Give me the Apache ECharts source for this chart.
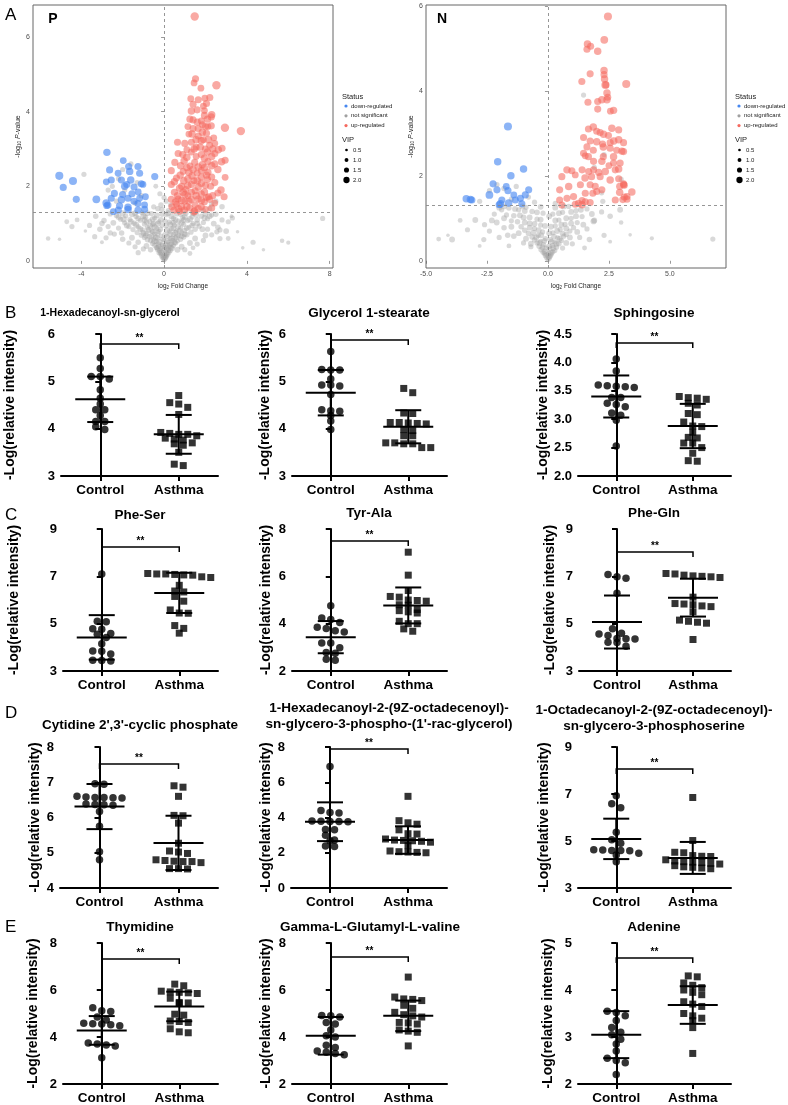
<!DOCTYPE html>
<html><head><meta charset="utf-8">
<script src="https://cdn.jsdelivr.net/npm/echarts@6/dist/echarts.min.js"></script>
<style>html,body{margin:0;padding:0;background:#fff}#c{width:788px;height:1105px}</style>
</head><body><div id="c"></div>
<script>
// ---------------- Volcano data: [log2 fold change, -log10 P, VIP] ----------------
const P_CUTOFF = 1.3;
const pUp = [[1.48,6.55,2.0],[1.52,4.88,1.6],[1.45,4.77,1.5],[2.53,4.71,2.0],[1.78,4.63,1.5],
[1.29,4.35,1.5],[1.65,4.32,1.6],[1.97,4.36,1.5],[2.21,4.38,1.6],[1.40,4.20,1.6],[1.90,4.15,1.5],[2.05,4.22,1.6],
[1.32,4.02,1.7],[1.60,4.05,1.6],[1.95,4.03,1.5],[2.30,3.92,1.7],[2.28,3.86,1.6],
[1.40,3.78,1.6],[1.80,3.75,1.5],[2.10,3.80,1.7],[1.60,3.72,1.6],
[1.15,3.60,1.5],[1.40,3.55,1.6],[2.12,3.60,1.5],[2.28,3.62,1.6],[1.85,3.65,1.5],
[2.94,3.57,2.0],[3.71,3.48,2.0],
[1.20,3.40,1.5],[1.65,3.35,1.6],[2.05,3.42,1.6],[2.40,3.30,1.5],[1.90,3.25,1.5],
[0.65,3.18,1.6],[1.32,3.18,1.6],[1.80,3.22,1.7],[2.45,3.15,1.5],[2.20,3.10,1.6],[1.55,3.05,1.5],
[2.00,3.00,1.6],[2.62,2.98,1.7],[2.80,3.02,1.6],[1.10,2.98,1.5],
[0.68,2.88,1.6],[1.32,2.92,1.5],[1.80,2.85,1.6],[2.10,2.92,1.7],[2.45,2.88,1.6],[1.55,2.80,1.5],
[0.52,2.64,1.6],[0.97,2.68,1.7],[1.48,2.64,1.6],[2.12,2.66,1.6],[2.45,2.60,1.6],[2.78,2.66,1.7],[1.25,2.55,1.5],[1.85,2.58,1.6],[2.95,2.70,1.6],
[0.35,2.42,1.6],[0.92,2.40,1.5],[1.40,2.45,1.7],[1.80,2.42,1.6],[2.12,2.38,1.6],[2.60,2.45,1.7],[1.10,2.50,1.6],[1.60,2.35,1.5],
[0.60,2.22,1.6],[1.15,2.20,1.7],[1.80,2.25,1.6],[2.45,2.10,1.6],[2.95,2.24,1.5],[1.45,2.15,1.5],[2.10,2.18,1.6],
[0.35,2.05,1.6],[0.85,2.00,1.6],[1.32,2.05,1.6],[1.65,1.98,1.7],[2.00,2.02,1.6],[1.05,1.92,1.5],[1.50,1.88,1.6],
[0.50,1.84,1.6],[0.92,1.84,1.7],[1.32,1.84,1.6],[1.80,1.80,1.6],[2.60,1.82,1.6],[2.75,1.90,1.7],[2.90,1.72,1.6],[1.15,1.75,1.5],[2.15,1.72,1.6],
[0.35,1.65,1.6],[0.68,1.66,1.6],[1.32,1.65,1.7],[1.65,1.66,1.6],[2.20,1.65,1.6],[2.45,1.55,1.5],[1.00,1.60,1.5],[1.95,1.58,1.5],[2.05,1.70,1.6],
[0.38,1.45,1.6],[0.84,1.45,1.7],[1.24,1.42,1.6],[1.80,1.45,1.6],[0.60,1.52,1.5],[1.50,1.50,1.5],
[0.48,1.36,1.6],[0.98,1.36,1.6],[1.48,1.34,1.6],[2.00,1.38,1.5],[1.45,1.32,1.7],[0.75,1.33,1.5],
[0.70,1.40,1.7],[1.10,1.45,1.7],[1.65,1.40,1.7],[2.30,1.42,1.6],[0.55,1.58,1.7],[0.85,1.62,1.7],[1.20,1.60,1.7],[1.80,1.62,1.7],[2.35,1.75,1.6],[0.65,1.75,1.7],[1.00,1.78,1.7],[1.55,1.75,1.7],[1.95,1.85,1.7],[0.75,1.95,1.7],[1.15,2.02,1.7],[1.80,2.08,1.7],[2.25,2.00,1.6],[0.50,2.12,1.7],[0.95,2.15,1.7],[1.35,2.28,1.7],[1.60,2.15,1.7],[2.05,2.30,1.7],[2.30,2.25,1.6],[0.78,2.30,1.7],[1.20,2.38,1.7],[1.95,2.50,1.7],[2.30,2.55,1.7],[0.80,2.55,1.7],[1.65,2.52,1.7],[1.10,2.78,1.7],[1.95,2.75,1.7],[2.30,2.80,1.7],[0.90,2.85,1.6],[1.45,3.00,1.7],[1.75,3.05,1.7],[2.35,3.00,1.7],[1.00,3.15,1.6],[1.55,3.25,1.7],[2.15,3.25,1.7],[1.35,3.40,1.7],[1.85,3.45,1.7],[1.65,3.55,1.6],[2.00,3.60,1.6],[1.25,3.80,1.6],[1.95,3.90,1.6]];
const pDown = [[-2.76,2.91,1.7],[-5.06,2.28,1.9],[-4.40,2.14,1.9],[-4.87,1.97,1.6],[-4.24,1.65,1.6],[-3.27,1.65,1.8],[-2.79,1.55,1.8],[-2.77,1.48,1.5],
[-1.97,2.69,1.5],[-1.71,2.53,1.6],[-1.26,2.53,1.6],[-2.63,2.44,1.6],[-2.22,2.35,1.5],[-1.66,2.40,1.7],[-1.18,2.35,1.6],[-0.45,2.26,1.6],
[-2.55,2.17,1.6],[-2.06,2.17,1.6],[-1.61,2.17,1.7],[-1.10,2.07,1.6],[-2.79,2.12,1.5],[-1.90,2.00,1.7],[-1.45,1.98,1.6],[-1.02,2.05,1.5],[-1.80,2.05,1.6],
[-2.40,1.81,1.6],[-2.00,1.78,1.6],[-1.55,1.80,1.6],[-1.25,1.85,1.5],
[-2.55,1.68,1.6],[-2.06,1.64,1.7],[-1.74,1.68,1.6],[-1.18,1.68,1.5],[-0.90,1.72,1.5],[-1.45,1.60,1.6],
[-2.71,1.50,1.6],[-2.15,1.48,1.6],[-1.74,1.44,1.7],[-1.26,1.54,1.6],[-0.94,1.50,1.5],
[-2.21,1.36,1.6],[-1.74,1.38,1.7],[-1.26,1.36,1.6],[-0.94,1.38,1.6],[-2.45,1.32,1.5]];
const pNs = [[0.00,0.02,0.8],[0.04,0.05,1.0],[-0.04,0.06,0.9],[0.09,0.09,1.0],[-0.08,0.10,1.1],[0.13,0.13,0.9],[-0.12,0.15,1.0],[0.02,0.16,1.2],[0.18,0.18,1.0],[-0.18,0.19,0.9],
[-0.24,0.22,1.0],[0.23,0.23,1.1],[0.06,0.25,0.9],[-0.06,0.27,1.0],[0.30,0.28,1.0],[-0.30,0.30,1.1],[0.15,0.31,0.9],[-0.16,0.33,1.0],[0.38,0.34,1.2],[-0.37,0.36,1.0],[0.03,0.37,1.0],[0.25,0.38,0.9],[-0.25,0.39,1.1],
[0.45,0.41,1.0],[-0.45,0.42,1.0],[0.10,0.43,1.1],[-0.10,0.44,0.9],[0.35,0.46,1.0],[-0.55,0.47,1.0],[0.55,0.48,1.1],[0.20,0.50,1.0],[-0.22,0.51,1.2],[-0.38,0.52,1.0],[0.65,0.53,0.9],[-0.65,0.54,1.0],[0.42,0.55,1.0],[0.00,0.56,0.9],[-0.80,0.57,1.1],[0.80,0.58,1.0],[-0.50,0.59,0.9],
[0.30,0.60,1.0],[-0.30,0.61,1.0],[0.55,0.62,1.1],[-0.95,0.63,1.0],[0.95,0.64,1.0],[-0.70,0.65,1.1],[0.15,0.66,1.0],[-0.15,0.67,0.9],[0.70,0.68,1.0],[-1.10,0.69,1.0],[1.10,0.70,1.1],[0.45,0.71,1.0],[-0.45,0.72,1.0],[-0.85,0.74,1.2],[0.85,0.75,1.0],[-1.30,0.76,1.0],[1.30,0.77,1.0],[0.25,0.78,0.9],[-0.25,0.79,1.0],
[0.60,0.80,1.0],[-0.60,0.81,1.1],[1.00,0.82,1.0],[-1.05,0.83,1.0],[-1.50,0.84,1.0],[1.50,0.85,1.1],[0.35,0.86,1.0],[-0.35,0.87,1.0],[0.80,0.88,1.0],[-0.80,0.89,1.1],[1.20,0.90,1.0],[-1.25,0.91,1.0],[-1.70,0.92,1.0],[1.70,0.93,1.0],[0.10,0.94,1.0],[-0.10,0.95,0.9],[0.50,0.96,1.0],[-0.55,0.97,1.1],[0.95,0.98,1.0],[-0.95,0.99,1.0],
[1.40,1.00,1.0],[-1.45,1.01,1.1],[-1.90,1.02,1.0],[1.90,1.03,1.0],[0.25,1.04,1.0],[-0.25,1.05,1.0],[0.70,1.06,1.1],[-0.70,1.07,1.0],[1.15,1.08,1.0],[-1.15,1.09,1.0],[1.60,1.10,1.1],[-1.65,1.11,1.0],[-2.10,1.12,1.0],[2.10,1.13,1.0],[0.45,1.14,1.0],[-0.45,1.15,1.0],[0.90,1.16,1.0],[-0.90,1.17,1.1],[1.35,1.18,1.0],[-1.35,1.19,1.0],[1.80,1.20,1.0],[-1.85,1.21,1.0],[-2.30,1.22,1.1],[2.30,1.23,1.0],[0.10,1.24,1.0],[-0.10,1.25,1.0],[0.60,1.26,1.0],[-0.60,1.27,1.0],[1.05,1.28,1.1],[-1.05,1.29,1.0],
[1.40,0.35,0.9],[-1.40,0.38,1.0],[1.90,0.55,1.0],[-2.00,0.58,1.1],[2.30,0.70,1.0],[-2.40,0.72,1.0],[2.60,0.90,1.1],[-2.70,0.92,1.0],[2.80,1.10,1.0],[-2.90,1.08,1.1],[1.00,0.30,1.0],[-1.00,0.32,1.0],[1.60,0.45,1.0],[-1.70,0.48,1.0],[2.10,0.85,1.0],[-2.20,0.88,1.0],[2.50,1.25,1.1],[-2.60,1.26,1.0],[3.00,0.80,1.2],[-3.10,0.85,1.1],[2.70,0.60,1.0],[-2.80,0.62,1.0],[1.25,0.20,0.9],[-1.25,0.22,1.0],[3.30,1.15,1.0],[-3.30,1.20,1.1],
[-0.30,1.40,1.0],[0.20,1.35,1.0],[-0.15,1.50,1.1],[0.10,1.60,1.0],[-0.50,1.45,1.0],[0.30,1.50,0.9],[-0.20,1.80,1.0],[0.00,1.70,1.0],[-0.40,2.00,0.9],[-0.10,1.38,1.0],[2.30,1.52,1.0],[2.50,1.60,1.0],[2.80,1.45,1.1],[1.90,1.35,1.0],[2.20,1.40,1.0],[-2.50,2.00,1.0],[-2.20,2.20,1.0],[-1.60,2.60,1.0],[-2.00,2.45,1.0],[-3.87,2.32,1.0],[-1.30,2.10,1.0],[-1.90,1.90,1.0],[-2.30,1.60,1.0],[-1.40,1.55,1.0],[-1.10,1.75,1.0],[-2.70,1.90,1.0],
[7.66,1.14,1.0],[4.30,0.50,1.0],[5.70,0.54,0.8],[6.00,0.49,0.7],[-5.60,0.60,0.8],[-5.05,0.58,0.5],[-4.45,0.92,1.0],[-3.35,0.65,1.0],[3.26,1.20,0.6],[3.55,0.78,0.5],[3.10,0.60,0.9],[2.70,0.83,1.0],[-4.20,1.10,0.9],[-3.80,0.80,0.5],[-3.00,0.50,0.6],[4.80,0.30,0.5],[3.80,0.35,0.5],[-4.70,1.05,0.9],[-3.60,0.95,1.0],
[0.07,0.12,1.2],[-0.02,0.11,1.1],[0.12,0.20,1.1],[-0.13,0.23,1.2],[0.20,0.29,1.2],[-0.20,0.28,1.1],[0.33,0.36,1.1],[-0.32,0.35,1.2],[0.10,0.36,1.3],[-0.05,0.40,1.2],[0.28,0.43,1.2],[-0.28,0.45,1.1],[0.50,0.50,1.2],[-0.48,0.53,1.3],[0.15,0.53,1.2],[-0.05,0.58,1.1],[0.38,0.60,1.3],[-0.40,0.63,1.2],[0.62,0.65,1.2],[-0.60,0.67,1.2],[0.85,0.66,1.1],[-0.88,0.68,1.2],[0.05,0.70,1.2],[0.30,0.72,1.2],[-0.32,0.74,1.3],[0.55,0.76,1.2],[-0.55,0.78,1.1],[1.00,0.72,1.2],[-1.00,0.75,1.2],[0.75,0.80,1.3],[-0.75,0.83,1.2],[0.15,0.83,1.2],[-0.18,0.85,1.1],[0.45,0.87,1.2],[-0.45,0.90,1.3],[1.10,0.88,1.2],[-1.15,0.86,1.2],[0.68,0.92,1.2],[-0.68,0.94,1.2],[1.35,0.95,1.1],[-1.35,0.97,1.3],[0.30,0.98,1.2],[-0.30,1.00,1.2],[0.85,1.02,1.3],[-0.85,1.04,1.2],[1.60,1.00,1.2],[-1.60,1.05,1.2],[0.05,1.06,1.1],[0.55,1.10,1.2],[-0.55,1.12,1.2],[1.25,1.12,1.3],[-1.25,1.14,1.2],[1.00,1.18,1.2],[-1.00,1.20,1.3],[0.35,1.20,1.2],[-0.35,1.22,1.2],[1.55,1.24,1.2],[-1.55,1.25,1.2],[0.80,1.26,1.2],[-0.80,1.28,1.2],[2.00,1.26,1.2],[-2.00,1.28,1.2],[0.20,1.28,1.2],[-1.80,0.95,1.2],[1.85,0.85,1.2],[-2.05,0.75,1.1],[2.00,0.68,1.2],[-1.55,0.62,1.2],[1.50,0.60,1.2],[-1.25,0.50,1.1],[1.25,0.48,1.2],[-0.85,0.40,1.2],[0.85,0.38,1.2],[-0.65,0.30,1.1],[0.65,0.30,1.2],[-2.45,1.02,1.2],[2.40,1.00,1.2],[-2.20,1.18,1.2],[2.20,1.20,1.2],[-1.40,1.28,1.2],[1.40,1.28,1.2],[-1.95,1.12,1.3],[1.95,1.15,1.2],[-0.95,1.10,1.2],[0.95,1.10,1.2],[-0.15,1.10,1.2],[0.45,1.02,1.2],[-0.50,1.00,1.1],[-2.60,0.75,1.0],[2.55,0.78,1.0],[-3.00,1.00,1.1],[3.10,1.05,1.0]];

const nUp = [[2.46,5.75,1.9],[1.62,5.10,1.7],[1.75,5.05,1.6],[1.60,4.98,1.6],[2.04,4.93,1.7],[2.31,5.20,1.8],
[1.39,4.22,1.6],[1.73,4.40,1.6],[2.30,4.48,1.7],[2.30,4.38,1.6],[2.32,4.28,1.7],[2.35,4.14,1.8],[2.38,4.14,1.6],
[2.42,3.95,1.7],[2.45,3.85,1.6],[2.42,3.79,1.7],[3.21,4.16,1.9],[1.64,3.73,1.6],[2.04,3.75,1.6],[2.21,3.79,1.7],[2.04,3.57,1.6],[2.69,3.54,1.7],[2.56,3.52,1.5],
[1.66,3.10,1.6],[1.86,3.15,1.7],[2.00,3.05,1.6],[2.14,3.02,1.6],[2.28,2.98,1.7],[2.48,2.95,1.6],[2.62,3.12,1.7],[2.90,3.08,1.6],
[1.46,2.90,1.6],[1.73,2.82,1.6],[2.00,2.80,1.7],[2.24,2.75,1.6],[2.55,2.78,1.6],[2.90,2.85,1.7],[3.10,2.78,1.6],[2.70,2.82,1.7],
[1.60,2.68,1.6],[1.86,2.60,1.6],[2.27,2.68,1.7],[2.55,2.65,1.6],[2.82,2.60,1.6],[3.03,2.58,1.6],
[1.46,2.53,1.6],[1.66,2.45,1.6],[2.27,2.45,1.6],[2.69,2.45,1.7],[3.10,2.57,1.6],[1.53,2.47,1.5],
[1.87,2.34,1.6],[2.21,2.34,1.7],[2.69,2.30,1.6],[2.96,2.30,1.6],[2.50,2.24,1.5],
[0.78,2.14,1.7],[0.98,2.12,1.6],[1.40,2.14,1.6],[1.67,2.10,1.6],[1.87,2.14,1.6],[2.08,2.08,1.6],[2.35,2.10,1.7],[2.76,2.14,1.6],[2.90,2.16,1.7],
[0.57,1.98,1.6],[1.12,2.02,1.5],[1.52,1.95,1.7],[1.79,1.98,1.6],[2.14,1.98,1.6],[2.55,1.90,1.7],[2.90,1.93,1.6],[3.10,1.81,1.6],[3.13,1.78,1.6],
[0.48,1.67,1.6],[0.85,1.75,1.7],[1.33,1.79,1.6],[1.73,1.79,1.6],[1.94,1.75,1.6],[2.21,1.67,1.6],[2.94,1.75,1.6],[3.10,1.79,1.6],
[0.48,1.43,1.6],[1.05,1.51,1.6],[1.53,1.59,1.6],[1.84,1.59,1.6],[2.00,1.63,1.6],[2.94,1.61,1.7],[3.24,1.51,1.6],[3.44,1.62,1.7],[3.13,1.50,1.6],
[0.57,1.31,1.6],[0.78,1.47,1.6],[1.40,1.42,1.6],[1.53,1.39,1.6],[1.73,1.37,1.6],[2.76,1.43,1.6],[3.07,1.44,1.6],[3.24,1.45,1.6],
[1.12,1.33,1.6],[1.25,1.35,1.6],[1.40,1.32,1.7]];
const nDown = [[-1.64,3.16,1.9],[-2.06,2.33,1.7],[-1.00,2.16,1.7],[-1.52,2.00,1.7],[-2.25,1.81,1.6],[-2.09,1.67,1.6],[-1.71,1.75,1.5],[-2.40,1.55,1.8],[-1.64,1.65,1.6],[-0.79,1.67,1.6],[-0.93,1.55,1.6],[-1.13,1.47,1.6],[-3.35,1.46,1.7],[-3.18,1.44,1.7],[-3.12,1.43,1.6],[-1.95,1.34,1.8],[-1.61,1.36,1.7],[-1.34,1.43,1.6],[-1.07,1.34,1.6],[-1.89,1.43,1.6],[-2.00,1.32,1.6],[-1.40,1.55,1.5]];
const nNs = [[0.00,0.02,0.9],[0.05,0.06,1.0],[-0.05,0.07,1.0],[0.10,0.11,1.0],[-0.10,0.12,1.1],[0.15,0.15,0.9],[-0.14,0.17,1.0],[0.03,0.18,1.0],[-0.20,0.20,1.0],[0.20,0.21,1.0],
[0.28,0.24,1.0],[-0.28,0.26,1.1],[0.08,0.28,1.0],[-0.08,0.30,1.0],[0.35,0.32,1.0],[-0.36,0.34,1.1],[0.18,0.36,1.0],[-0.18,0.38,1.0],[0.45,0.40,1.1],[-0.45,0.42,1.0],[0.28,0.44,1.0],[-0.30,0.46,1.0],[0.55,0.48,1.0],[-0.55,0.49,1.1],
[0.10,0.50,1.0],[-0.10,0.52,1.0],[0.40,0.54,1.0],[-0.65,0.56,1.1],[0.65,0.58,1.0],[-0.40,0.60,1.0],[0.75,0.62,1.0],[-0.80,0.64,1.1],[0.20,0.66,1.0],[-0.22,0.68,1.0],[0.90,0.70,1.0],[-0.95,0.72,1.1],[0.50,0.74,1.0],[-0.55,0.76,1.0],[1.05,0.78,1.0],
[-1.10,0.80,1.1],[0.30,0.82,1.0],[-0.30,0.84,1.0],[0.70,0.86,1.0],[-0.75,0.88,1.2],[1.20,0.90,1.0],[-1.25,0.92,1.1],[-1.50,0.94,1.0],[0.45,0.96,1.0],[-0.45,0.98,1.0],[0.95,1.00,1.0],[-1.00,1.02,1.2],[1.40,1.04,1.0],[-1.40,1.06,1.1],[-1.70,1.08,1.0],[0.20,1.10,1.0],[-0.20,1.12,1.0],[0.60,1.14,1.0],[-0.65,1.16,1.1],[1.15,1.18,1.0],[-1.20,1.20,1.0],[1.60,1.22,1.0],[-1.60,1.24,1.1],[-0.90,1.26,1.0],[0.85,1.28,1.0],
[1.00,0.40,1.0],[-1.00,0.42,1.0],[1.30,0.55,1.0],[-1.40,0.58,1.1],[1.60,0.75,1.0],[-1.80,0.78,1.1],[-2.10,0.90,1.2],[1.90,0.95,1.2],[-2.40,0.70,1.0],[-2.60,0.85,1.0],[-2.20,1.10,1.0],[2.20,1.15,1.0],[-1.90,1.20,1.0],[1.50,0.30,0.9],[-1.60,0.35,0.9],[-2.00,0.55,1.0],[0.60,0.30,1.0],[-0.70,0.33,1.0],[2.30,0.60,1.0],
[1.46,3.90,1.0],[2.20,1.60,1.0],[2.25,1.40,1.0],[3.00,1.92,1.0],[-2.09,1.79,1.0],[-1.80,1.70,1.1],[-1.30,1.75,1.0],[-2.40,1.65,1.0],[-1.50,1.45,1.0],[-0.55,1.38,1.0],[0.30,1.35,1.0],[1.90,2.20,1.0],[2.30,2.50,1.0],[-0.80,1.50,1.0],[-2.80,1.40,1.0],
[-4.48,0.51,0.9],[-3.93,0.50,1.2],[-2.98,0.96,1.2],[-3.30,0.73,1.0],[-2.63,0.50,1.0],[1.87,0.93,1.3],[2.55,1.05,1.1],[2.96,1.20,1.2],[3.37,0.61,0.5],[4.26,0.53,0.7],[6.76,0.51,1.0],[2.55,0.45,0.6],[-3.60,0.95,0.9],[-4.10,0.60,0.5],[-2.80,0.35,0.6],[3.00,0.90,0.8],
[0.04,0.10,1.2],[-0.03,0.14,1.2],[0.12,0.19,1.2],[-0.12,0.22,1.2],[0.22,0.30,1.2],[-0.22,0.32,1.2],[0.04,0.34,1.2],[0.35,0.40,1.2],[-0.35,0.42,1.2],[0.15,0.45,1.2],[-0.15,0.47,1.2],[0.48,0.52,1.2],[-0.48,0.55,1.2],[0.25,0.57,1.2],[-0.28,0.60,1.2],[0.60,0.64,1.2],[-0.60,0.66,1.2],[0.05,0.65,1.2],[0.38,0.70,1.2],[-0.38,0.72,1.2],[0.75,0.76,1.2],[-0.75,0.78,1.2],[0.12,0.80,1.2],[-0.12,0.82,1.2],[0.55,0.85,1.2],[-0.55,0.87,1.2],[0.95,0.88,1.2],[-0.95,0.90,1.2],[0.30,0.95,1.2],[-0.30,0.97,1.2],[0.75,1.00,1.2],[-0.75,1.02,1.2],[1.15,1.05,1.2],[-1.15,1.07,1.2],[0.05,1.05,1.2],[0.45,1.12,1.2],[-0.45,1.14,1.2],[0.95,1.15,1.2],[-0.95,1.17,1.2],[1.35,1.20,1.2],[-1.35,1.22,1.2],[0.30,1.25,1.2],[-0.30,1.27,1.2],[0.65,1.28,1.2],[-1.05,1.28,1.2],[-1.80,1.00,1.2],[-1.50,0.80,1.2],[1.45,0.85,1.2],[-1.20,0.65,1.2],[1.20,0.68,1.2],[-0.90,0.52,1.2],[0.90,0.55,1.2],[-2.00,1.25,1.2],[1.80,1.10,1.2],[-2.30,0.95,1.2],[-1.65,0.60,1.1],[1.70,0.50,1.1],[-0.70,0.40,1.2],[0.75,0.42,1.2],[-1.80,1.28,1.2]];

const statusNames = ['down-regulated', 'not significant', 'up-regulated'];
const vipLegend = [0.5, 1.0, 1.5, 2.0];
const pXTicks = [-4, 0, 4, 8], pYTicks = [0, 2, 4, 6];
const nXTicks = [-5, -2.5, 0, 2.5, 5], nYTicks = [0, 2, 4, 6];

// ---------------- Dot plot data ----------------
const groups = ['Control', 'Asthma'];
const b1Control = [5.50,5.27,5.10,5.10,5.05,4.82,4.64,4.52,4.40,4.40,4.28,4.15,4.15,4.04,3.98];
const b1Asthma = [4.70,4.55,4.52,4.45,4.30,3.92,3.90,3.88,3.88,3.85,3.80,3.78,3.76,3.70,3.68,3.65,3.50,3.25,3.22];
const b2Control = [5.63,5.25,5.24,5.24,5.05,4.92,4.92,4.90,4.72,4.40,4.38,4.37,4.28,4.16,3.98];
const b2Asthma = [4.85,4.76,4.33,4.32,4.13,4.13,4.12,4.11,4.10,3.98,3.96,3.85,3.85,3.70,3.70,3.68,3.68,3.60,3.60];
const b3Control = [4.06,3.85,3.60,3.59,3.58,3.57,3.56,3.38,3.38,3.28,3.26,3.22,3.11,3.07,2.98,2.53];
const b3Asthma = [3.40,3.38,3.37,3.35,3.28,3.25,3.10,3.08,2.95,2.88,2.87,2.77,2.68,2.67,2.58,2.58,2.50,2.40,2.27,2.26];
const c1Control = [7.10,5.10,5.08,4.78,4.76,4.58,4.55,4.42,4.15,3.85,3.83,3.72,3.45,3.44,3.42];
const c1Asthma = [7.12,7.10,7.10,7.08,7.06,7.05,6.98,6.95,6.62,6.38,6.34,6.15,5.95,5.58,5.45,5.44,4.92,4.80,4.60];
const c2Control = [4.76,4.24,4.18,4.05,3.85,3.80,3.70,3.65,3.18,3.18,2.98,2.78,2.75,2.50,2.45];
const c2Asthma = [7.02,6.05,5.40,5.15,5.12,5.00,4.98,4.95,4.80,4.78,4.60,4.55,4.50,4.45,4.10,4.00,4.00,3.78,3.68];
const c3Control = [7.08,6.98,6.92,6.28,4.78,4.60,4.56,4.50,4.37,4.36,4.35,4.22,4.20,4.05];
const c3Asthma = [7.12,7.10,7.05,7.02,7.00,6.98,6.95,6.12,5.85,5.83,5.80,5.75,5.72,5.50,5.15,5.10,5.06,5.02,4.33];
const d1Control = [6.96,6.94,6.60,6.58,6.57,6.57,6.56,6.55,6.38,6.37,6.36,6.35,6.17,5.75,5.03,4.80];
const d1Asthma = [6.90,6.86,6.60,6.06,6.05,5.84,5.27,5.05,5.02,4.98,4.80,4.78,4.76,4.75,4.75,4.72,4.55,4.55,4.54];
const d2Control = [6.90,4.40,4.28,4.25,3.80,3.79,3.78,3.77,3.76,3.32,3.30,3.00,2.72,2.68,2.38,2.35];
const d2Asthma = [5.20,3.82,3.70,3.62,3.30,3.08,3.06,2.78,2.72,2.70,2.68,2.65,2.60,2.40,2.10,2.06,2.04,2.02,2.00];
const d3Control = [6.93,6.58,6.42,5.37,5.05,4.90,4.63,4.62,4.60,4.60,4.58,4.48,4.40,4.12];
const d3Asthma = [6.85,5.02,4.52,4.50,4.38,4.35,4.34,4.20,4.15,4.12,4.10,4.08,4.05,4.02,3.95,3.90,3.88,3.85,3.82];
const e1Control = [5.25,5.12,5.08,4.85,4.72,4.58,4.56,4.55,4.52,4.48,3.75,3.70,3.66,3.62,3.12];
const e1Asthma = [6.25,6.18,5.95,5.92,5.90,5.88,5.85,5.65,5.47,5.45,5.43,4.97,4.93,4.68,4.66,4.62,4.35,4.22,4.18];
const e2Control = [4.92,4.90,4.85,4.62,4.55,4.30,4.05,4.00,3.65,3.55,3.40,3.35,3.30,3.25];
const e2Asthma = [6.55,5.70,5.62,5.60,5.55,5.35,5.22,5.05,4.95,4.90,4.85,4.62,4.60,4.55,4.30,4.25,4.20,3.62];
const e3Control = [3.55,3.52,3.45,3.35,3.20,3.10,3.05,2.95,2.85,2.70,2.55,2.50,2.45,2.20];
const e3Asthma = [4.30,4.28,4.15,4.10,4.05,4.00,3.95,3.90,3.75,3.70,3.65,3.50,3.45,3.40,3.35,3.20,2.65];
// group mean and SD [Control, Asthma]
const b1Mean = [4.62,3.88], b1SD = [0.48,0.41];
const b2Mean = [4.76,4.04], b2SD = [0.48,0.35];
const b3Mean = [3.40,2.88], b3SD = [0.37,0.39];
const c1Mean = [4.42,6.30], c1SD = [0.94,0.85];
const c2Mean = [3.43,4.77], c2SD = [0.68,0.76];
const c3Mean = [5.07,6.10], c3SD = [1.12,0.80];
const d1Mean = [6.31,5.28], d1SD = [0.64,0.77];
const d2Mean = [3.76,2.72], d2SD = [1.10,0.78];
const d3Mean = [5.09,4.28], d3SD = [0.86,0.68];
const e1Mean = [4.28,5.30], e1SD = [0.61,0.63];
const e2Mean = [4.05,4.90], e2SD = [0.80,0.65];
const e3Mean = [3.05,3.68], e3SD = [0.50,0.40];
// axis ranges [min, max, interval]
const b1Axis = [3,6,1], b2Axis = [3,6,1], b3Axis = [2,4.5,0.5];
const c1Axis = [3,9,2], c2Axis = [2,8,2], c3Axis = [3,9,2];
const d1Axis = [4,8,1], d2Axis = [0,8,2], d3Axis = [3,9,2];
const e1Axis = [2,8,2], e2Axis = [2,8,2], e3Axis = [2,5,1];
const titles = [
  ['1-Hexadecanoyl-sn-glycerol'], ['Glycerol 1-stearate'], ['Sphingosine'],
  ['Phe-Ser'], ['Tyr-Ala'], ['Phe-Gln'],
  ["Cytidine 2',3'-cyclic phosphate"], ['1-Hexadecanoyl-2-(9Z-octadecenoyl)-', "sn-glycero-3-phospho-(1'-rac-glycerol)"], ['1-Octadecanoyl-2-(9Z-octadecenoyl)-', 'sn-glycero-3-phosphoserine'],
  ['Thymidine'], ['Gamma-L-Glutamyl-L-valine'], ['Adenine']];
const yName = '-Log(relative intensity)';

// ---------------- Layout ----------------
const FONT = "'Liberation Sans', Arial, sans-serif";
const rowTop = [334, 529, 747, 943], rowH = [142, 142, 141, 141];
const colLeft = [[61,292,578],[63,292,579],[60,291,578],[63,292,578]];
const colRight = [218, 447, 731];
const nameGaps = [[44,20,16],[42,19,22],[18,18,27],[23,19,23]];
const bracketOff = [[10,6,9],[18,12,23],[17,2,22],[16,14,15]];
const titleLayout = [ // [cx, cy(first line), fontSize]
  [110,313,10.5],[369,313,13.5],[654,313,13.5],
  [140,515,13.5],[369,513,13.5],[654,513,13.5],
  [140,725,13.5],[389,708,13.5],[654,710,13.5],
  [140,927,13.5],[370,927,13.5],[654,927,13.5]];

const panelData = [
  [b1Control,b1Asthma,b1Mean,b1SD,b1Axis],[b2Control,b2Asthma,b2Mean,b2SD,b2Axis],[b3Control,b3Asthma,b3Mean,b3SD,b3Axis],
  [c1Control,c1Asthma,c1Mean,c1SD,c1Axis],[c2Control,c2Asthma,c2Mean,c2SD,c2Axis],[c3Control,c3Asthma,c3Mean,c3SD,c3Axis],
  [d1Control,d1Asthma,d1Mean,d1SD,d1Axis],[d2Control,d2Asthma,d2Mean,d2SD,d2Axis],[d3Control,d3Asthma,d3Mean,d3SD,d3Axis],
  [e1Control,e1Asthma,e1Mean,e1SD,e1Axis],[e2Control,e2Asthma,e2Mean,e2SD,e2Axis],[e3Control,e3Asthma,e3Mean,e3SD,e3Axis]];

// GraphPad-like horizontal spreading of points with similar values
function swarm(values, center, pxPerY, pxPerX) {
  const sorted = values.slice().sort((a, b) => b - a);
  const out = []; let bin = [];
  const flush = () => { const n = bin.length; bin.forEach((v, i) => out.push([center + (i - (n - 1) / 2) * 9 / pxPerX, v])); bin = []; };
  for (const v of sorted) { if (bin.length && (bin[0] - v) * pxPerY > 5) flush(); bin.push(v); }
  flush();
  return out;
}

const vipSize = v => 2 + v * 3.2;
const COL_DOWN = 'rgba(70,135,240,0.78)', COL_NS = 'rgba(160,160,160,0.5)', COL_UP = 'rgba(245,105,95,0.72)';

const grids = [], xAxes = [], yAxes = [], series = [], graphics = [];

// ---- volcano grids ----
const volc = [
  {left:33, box:[-6.33,8.16,-0.19,6.86], xt:pXTicks, yt:pYTicks, dec:0, up:pUp, down:pDown, ns:pNs, tag:'P', tagX:53, legX:342},
  {left:426, box:[-5.0,7.3,-0.17,6.02], xt:nXTicks, yt:nYTicks, dec:1, up:nUp, down:nDown, ns:nNs, tag:'N', tagX:442, legX:735}];
volc.forEach((v, i) => {
  grids.push({left: v.left, top: 5, width: 300, height: 263, show: true, borderColor: '#666', borderWidth: 1, backgroundColor: '#fff'});
  const lab = {fontSize: 7, color: '#4d4d4d', fontFamily: FONT};
  xAxes.push({type:'value', gridIndex:i, min:v.box[0], max:v.box[1], axisLine:{show:false}, splitLine:{show:false},
    axisTick:{show:true, length:3, customValues:v.xt, lineStyle:{color:'#555', width:0.6}},
    axisLabel:Object.assign({customValues:v.xt, margin:3, formatter: x => x.toFixed(v.dec)}, lab),
    name:'log{s|2} Fold Change', nameLocation:'middle', nameGap:14,
    nameTextStyle:{fontSize:6.5, color:'#222', fontFamily:FONT, rich:{s:{fontSize:4.5, verticalAlign:'bottom', padding:[3,0,0,0]}}}});
  yAxes.push({type:'value', gridIndex:i, min:v.box[2], max:v.box[3], axisLine:{show:false}, splitLine:{show:false},
    axisTick:{show:true, length:3, customValues:v.yt, lineStyle:{color:'#555', width:0.6}},
    axisLabel:Object.assign({customValues:v.yt, margin:3}, lab),
    name:'-log{s|10} {i|P}-value', nameLocation:'middle', nameGap:9,
    nameTextStyle:{fontSize:7, color:'#222', fontFamily:FONT, rich:{s:{fontSize:4.5, padding:[3,0,0,0]}, i:{fontSize:7, fontStyle:'italic'}}}});
  const common = {type:'scatter', xAxisIndex:i, yAxisIndex:i, symbolSize: d => vipSize(d[2]), silent:true};
  series.push(Object.assign({name:statusNames[1], data:v.ns, itemStyle:{color:COL_NS}}, common));
  series.push(Object.assign({name:statusNames[0], data:v.down, itemStyle:{color:COL_DOWN}}, common));
  series.push(Object.assign({name:statusNames[2], data:v.up, itemStyle:{color:COL_UP},
    markLine:{silent:true, symbol:['none','none'], label:{show:false}, lineStyle:{type:[3,3], color:'#8a8a8a', width:0.9},
      data:[{xAxis:0},{yAxis:P_CUTOFF}]}}, common));
  // tag and legend
  graphics.push({type:'text', x:v.tagX, y:19, style:{text:v.tag, font:'bold 14px ' + FONT, fill:'#000', align:'center', verticalAlign:'middle'}});
  const lx = v.legX;
  graphics.push({type:'text', x:lx, y:97, style:{text:'Status', font:'7.5px ' + FONT, fill:'#222', verticalAlign:'middle'}});
  [COL_DOWN, COL_NS, COL_UP].forEach((c, k) => {
    const yy = 106 + k * 9.8;
    graphics.push({type:'circle', shape:{cx:lx + 4, cy:yy, r:1.6}, style:{fill:c.replace(/[\d.]+\)$/, '1)')}});
    graphics.push({type:'text', x:lx + 9, y:yy, style:{text:statusNames[k], font:'6px ' + FONT, fill:'#222', verticalAlign:'middle'}});
  });
  graphics.push({type:'text', x:lx, y:140, style:{text:'VIP', font:'7.5px ' + FONT, fill:'#222', verticalAlign:'middle'}});
  vipLegend.forEach((s, k) => {
    const yy = 150 + k * 10;
    graphics.push({type:'circle', shape:{cx:lx + 4.5, cy:yy, r:(1.5 + s * 2.4) / 2}, style:{fill:'#000'}});
    graphics.push({type:'text', x:lx + 11, y:yy, style:{text:s.toFixed(1), font:'6px ' + FONT, fill:'#222', verticalAlign:'middle'}});
  });
});

// ---- dot plot panels ----
panelData.forEach((p, k) => {
  const row = Math.floor(k / 3), col = k % 3;
  const gi = grids.length;
  const left = colLeft[row][col], width = colRight[col] - left, top = rowTop[row], height = rowH[row];
  const [ctrl, asth, mean, sd, ax] = p;
  grids.push({left, top, width, height});
  const black = {color:'#000', width:2};
  xAxes.push({type:'value', gridIndex:gi, min:-0.5, max:1.5, splitLine:{show:false},
    axisLine:{show:true, lineStyle:black},
    axisTick:{show:true, customValues:[0,1], length:5, lineStyle:black},
    axisLabel:{customValues:[0,1], formatter: v => groups[Math.round(v)], fontSize:13.5, fontWeight:'bold', color:'#000', fontFamily:FONT, margin:7}});
  yAxes.push({type:'value', gridIndex:gi, min:ax[0], max:ax[1], interval:ax[2], splitLine:{show:false},
    axisLine:{show:true, lineStyle:black},
    axisTick:{show:true, length:5, lineStyle:black},
    axisLabel:{fontSize:13, fontWeight:'bold', color:'#000', fontFamily:FONT, margin:6,
      formatter: v => ax[2] < 1 ? v.toFixed(1) : String(v)},
    name:yName, nameLocation:'middle', nameGap:nameGaps[row][col],
    nameTextStyle:{fontSize:14, fontWeight:'bold', color:'#000', fontFamily:FONT}});
  const pxPerY = height / (ax[1] - ax[0]), pxPerX = width / 2;
  series.push({type:'scatter', xAxisIndex:gi, yAxisIndex:gi, symbol:'circle', symbolSize:7.5, itemStyle:{color:'#000'}, silent:true,
    data: swarm(ctrl, 0, pxPerY, pxPerX)});
  series.push({type:'scatter', xAxisIndex:gi, yAxisIndex:gi, symbol:'rect', symbolSize:7, itemStyle:{color:'#000'}, silent:true,
    data: swarm(asth, 1, pxPerY, pxPerX)});
  // mean +/- SD
  series.push({type:'custom', xAxisIndex:gi, yAxisIndex:gi, silent:true, z:5,
    data: [[0, mean[0], sd[0]], [1, mean[1], sd[1]]],
    renderItem: (params, api) => {
      const x = api.value(0), m = api.value(1), s = api.value(2);
      const c = api.coord([x, m]), t = api.coord([x, m + s]), b = api.coord([x, m - s]);
      const st = {stroke:'#000', lineWidth:2};
      return {type:'group', children:[
        {type:'line', shape:{x1:c[0] - 25, y1:c[1], x2:c[0] + 25, y2:c[1]}, style:st},
        {type:'line', shape:{x1:t[0], y1:t[1], x2:b[0], y2:b[1]}, style:st},
        {type:'line', shape:{x1:t[0] - 13, y1:t[1], x2:t[0] + 13, y2:t[1]}, style:st},
        {type:'line', shape:{x1:b[0] - 13, y1:b[1], x2:b[0] + 13, y2:b[1]}, style:st}]};
    }});
  // significance bracket
  const off = bracketOff[row][col], yTop = ax[1];
  series.push({type:'custom', xAxisIndex:gi, yAxisIndex:gi, silent:true, z:5,
    data: [[0, 1]],
    renderItem: (params, api) => {
      const a = api.coord([api.value(0), yTop]), b = api.coord([api.value(1), yTop]);
      const y = a[1] + off;
      return {type:'group', children:[
        {type:'polyline', shape:{points:[[a[0], y + 5], [a[0], y], [b[0], y], [b[0], y + 5]]}, style:{stroke:'#000', lineWidth:1.5, fill:null}},
        {type:'text', x:(a[0] + b[0]) / 2, y:y - 1, style:{text:'**', font:'bold 10px ' + FONT, fill:'#000', align:'center', verticalAlign:'bottom'}}]};
    }});
  // title
  const [tx, ty, fs] = titleLayout[k];
  titles[k].forEach((line, j) => {
    graphics.push({type:'text', x:tx, y:ty + j * 16, style:{text:line, font:'bold ' + fs + 'px ' + FONT, fill:'#000', align:'center', verticalAlign:'middle'}});
  });
});

// panel letters
[['A',15],['B',313],['C',515],['D',713],['E',927]].forEach(([t, y]) => {
  graphics.push({type:'text', x:5, y:y, style:{text:t, font:'17px ' + FONT, fill:'#000', verticalAlign:'middle'}});
});

const chart = echarts.init(document.getElementById('c'), null, {renderer:'canvas'});
chart.setOption({animation:false, backgroundColor:'#fff', grid:grids, xAxis:xAxes, yAxis:yAxes, series, graphic:graphics});
</script></body></html>
